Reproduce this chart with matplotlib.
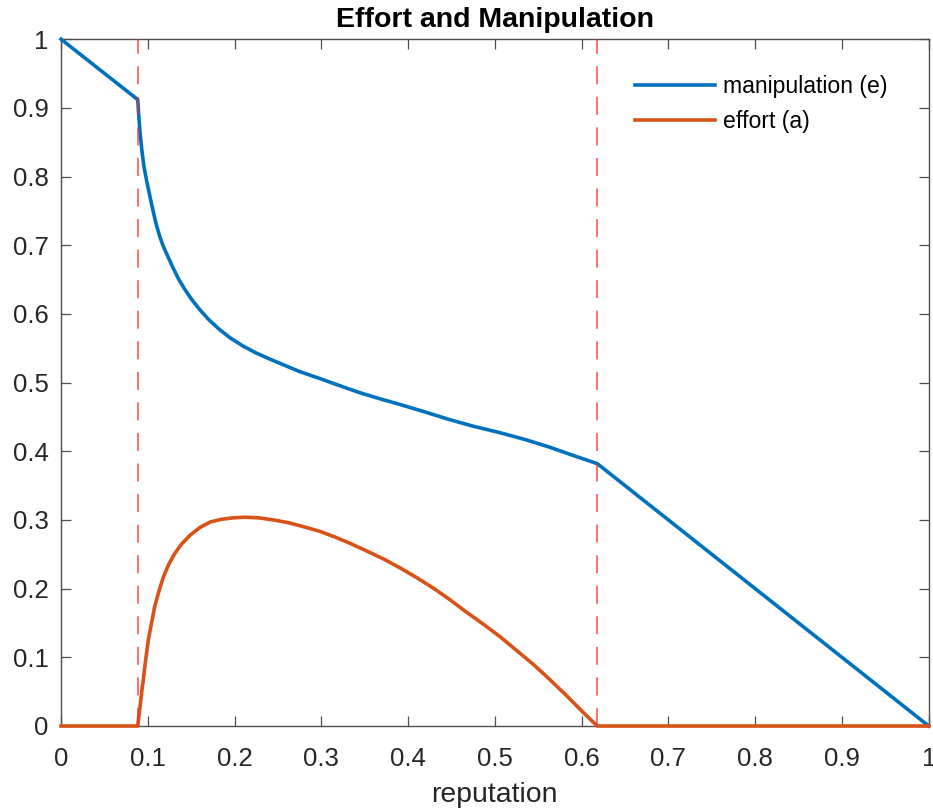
import matplotlib
matplotlib.use("Agg")
import matplotlib.pyplot as plt

plt.rcParams['font.family'] = ['Liberation Sans', 'DejaVu Sans']
plt.rcParams['lines.scale_dashes'] = False

# thresholds (vertical dashed lines)
cutoffs = [0.0884, 0.618]

# manipulation (e)
manip_x = [0.0, 0.0884, 0.0895, 0.091, 0.093, 0.0955, 0.0985, 0.101, 0.104,
           0.107, 0.110, 0.114, 0.118, 0.123, 0.128, 0.135, 0.142, 0.150,
           0.160, 0.170, 0.182, 0.195, 0.210, 0.225, 0.241, 0.258, 0.275,
           0.298, 0.320, 0.345, 0.370, 0.391, 0.420, 0.448, 0.475, 0.506,
           0.535, 0.563, 0.590, 0.618, 1.0]
manip_y = [1.0, 0.912, 0.890, 0.865, 0.840, 0.815, 0.795, 0.780, 0.762,
           0.745, 0.729, 0.712, 0.698, 0.684, 0.670, 0.652, 0.637, 0.622,
           0.606, 0.592, 0.578, 0.565, 0.553, 0.543, 0.534, 0.525, 0.516,
           0.506, 0.496, 0.485, 0.4755, 0.468, 0.457, 0.446, 0.4365, 0.427,
           0.417, 0.406, 0.394, 0.382, 0.0]

# effort (a)
effort_x = [0.0, 0.0884, 0.090, 0.0915, 0.093, 0.0948, 0.0975, 0.1006, 0.104,
            0.108, 0.113, 0.118, 0.124, 0.131, 0.139, 0.149, 0.160, 0.172,
            0.185, 0.198, 0.212, 0.228, 0.245, 0.262, 0.280, 0.298, 0.315,
            0.333, 0.352, 0.372, 0.391, 0.410, 0.430, 0.448, 0.467, 0.487,
            0.506, 0.525, 0.545, 0.563, 0.582, 0.600, 0.618, 1.0]
effort_y = [0.0, 0.0, 0.017, 0.033, 0.050, 0.067, 0.096, 0.125, 0.148,
            0.174, 0.197, 0.217, 0.235, 0.251, 0.265, 0.278, 0.289, 0.297,
            0.301, 0.303, 0.304, 0.303, 0.300, 0.296, 0.290, 0.2835, 0.2755,
            0.266, 0.255, 0.243, 0.230, 0.216, 0.200, 0.184, 0.166, 0.148,
            0.130, 0.110, 0.089, 0.068, 0.045, 0.022, 0.0, 0.0]

ticks = [0, 0.1, 0.2, 0.3, 0.4, 0.5, 0.6, 0.7, 0.8, 0.9, 1]
tick_labels = ['0', '0.1', '0.2', '0.3', '0.4', '0.5', '0.6', '0.7', '0.8', '0.9', '1']

blue = '#0072BD'
orange = '#D95319'
axis_col = '#4d4d4d'
text_col = '#262626'

fig = plt.figure(figsize=(9.33, 8.09), dpi=100)
ax = fig.add_axes([0.0654, 0.1026, 0.930, 0.849])

ax.plot(manip_x, manip_y, color=blue, lw=2.6, label='manipulation (e)',
        clip_on=False, zorder=3, solid_joinstyle='round')
ax.plot(effort_x, effort_y, color=orange, lw=2.6, label='effort (a)',
        clip_on=False, zorder=3, solid_joinstyle='round')
for c in cutoffs:
    ax.axvline(c, color='#FF2A2A', lw=1.1, alpha=0.85,
               linestyle=(0, (13, 9)), zorder=4)

ax.set_xlim(0, 1)
ax.set_ylim(0, 1)
ax.set_xticks(ticks)
ax.set_xticklabels(tick_labels)
ax.set_yticks(ticks)
ax.set_yticklabels(tick_labels)

ax.tick_params(direction='in', length=7, width=0.9, color=axis_col,
               labelcolor=text_col, labelsize=18.5, top=True, right=True)
ax.tick_params(axis='x', pad=15)
ax.tick_params(axis='y', pad=9)
for s in ax.spines.values():
    s.set_color(axis_col)
    s.set_linewidth(1.0)

ax.set_xlabel('reputation', fontsize=20.4, color=text_col, labelpad=8)
ax.set_title('Effort and Manipulation', fontsize=20.5, fontweight='bold',
             color='black', pad=9)

ax.legend(loc='upper left', bbox_to_anchor=(0.662, 0.948), frameon=False,
          fontsize=16.6, handlelength=3.45, handletextpad=0.35,
          labelspacing=0.52, borderpad=0, borderaxespad=0)

fig.savefig('out.png', dpi=100)
